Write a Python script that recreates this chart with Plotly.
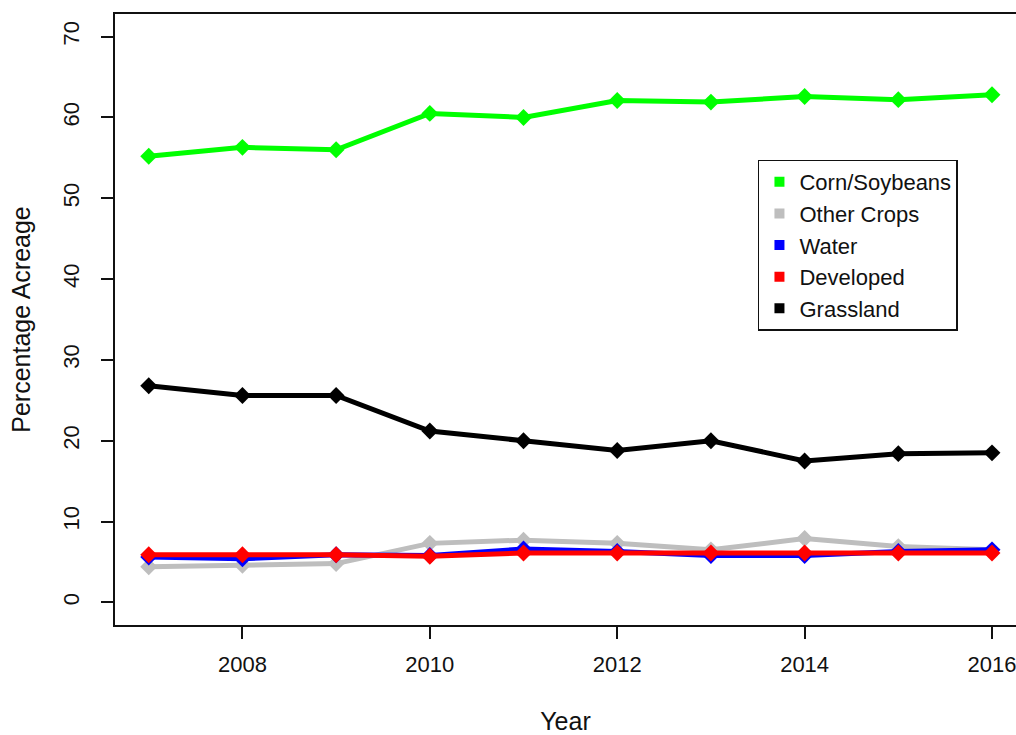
import plotly.graph_objects as go

years = [2007, 2008, 2009, 2010, 2011, 2012, 2013, 2014, 2015, 2016]
corn_soy = [55.2, 56.3, 56.0, 60.5, 60.0, 62.1, 61.9, 62.6, 62.2, 62.8]
other_crops = [4.4, 4.6, 4.8, 7.3, 7.7, 7.3, 6.5, 7.9, 6.9, 6.5]
water = [5.6, 5.4, 5.9, 5.8, 6.6, 6.3, 5.8, 5.8, 6.3, 6.5]
developed = [5.9, 5.9, 5.9, 5.7, 6.1, 6.1, 6.1, 6.1, 6.1, 6.1]
grassland = [26.8, 25.6, 25.6, 21.2, 20.0, 18.8, 20.0, 17.5, 18.4, 18.5]

series_names = ["Corn/Soybeans", "Other Crops", "Water", "Developed", "Grassland"]
series_vals = [corn_soy, other_crops, water, developed, grassland]
colors = ["#00FF00", "#BEBEBE", "#0000FF", "#FF0000", "#000000"]

y_ticks = [0, 10, 20, 30, 40, 50, 60, 70]
x_ticks = [2008, 2010, 2012, 2014, 2016]

FONT = "Liberation Sans, Arial, sans-serif"

fig = go.Figure()
for name, vals, col in zip(series_names, series_vals, colors):
    fig.add_trace(go.Scatter(
        x=years, y=vals, mode="lines+markers", name=name,
        line=dict(color=col, width=5),
        marker=dict(symbol="diamond", size=13, color=col),
        showlegend=False,
    ))
for name, col in zip(series_names, colors):
    fig.add_trace(go.Scatter(
        x=[None], y=[None], mode="markers", name=name,
        marker=dict(symbol="square", size=10, color=col),
        showlegend=True,
    ))

fig.update_layout(
    width=1016, height=735,
    margin=dict(l=115, r=0, t=14, b=108),
    paper_bgcolor="white", plot_bgcolor="white",
    font=dict(family=FONT, size=21, color="#111111"),
    xaxis=dict(
        range=[2006.64, 2016.256], tickmode="array", tickvals=x_ticks,
        ticks="outside", ticklen=12, tickwidth=1.5, tickcolor="#111",
        ticklabelstandoff=7, tickfont=dict(size=22),
        ticklabeloverflow="allow",
        showline=True, linecolor="#111", linewidth=1.5, mirror=True,
        showgrid=False, zeroline=False,
        title=dict(text="Year", standoff=40),
    ),
    yaxis=dict(
        range=[-2.8, 72.8], tickmode="array", tickvals=y_ticks,
        ticks="outside", ticklen=12, tickwidth=1.5, tickcolor="#111",
        tickangle=-90, ticklabelstandoff=13, tickfont=dict(size=22),
        showline=True, linecolor="#111", linewidth=1.5, mirror=False,
        showgrid=False, zeroline=False,
        title=dict(text="Percentage Acreage", standoff=22),
    ),
    legend=dict(
        x=0.7136, y=0.7618, xanchor="left", yanchor="top",
        bordercolor="#111", borderwidth=1.5, bgcolor="white",
        font=dict(family=FONT, size=22),
        tracegroupgap=0, itemwidth=30,
    ),
)
fig.write_html("out.html")
